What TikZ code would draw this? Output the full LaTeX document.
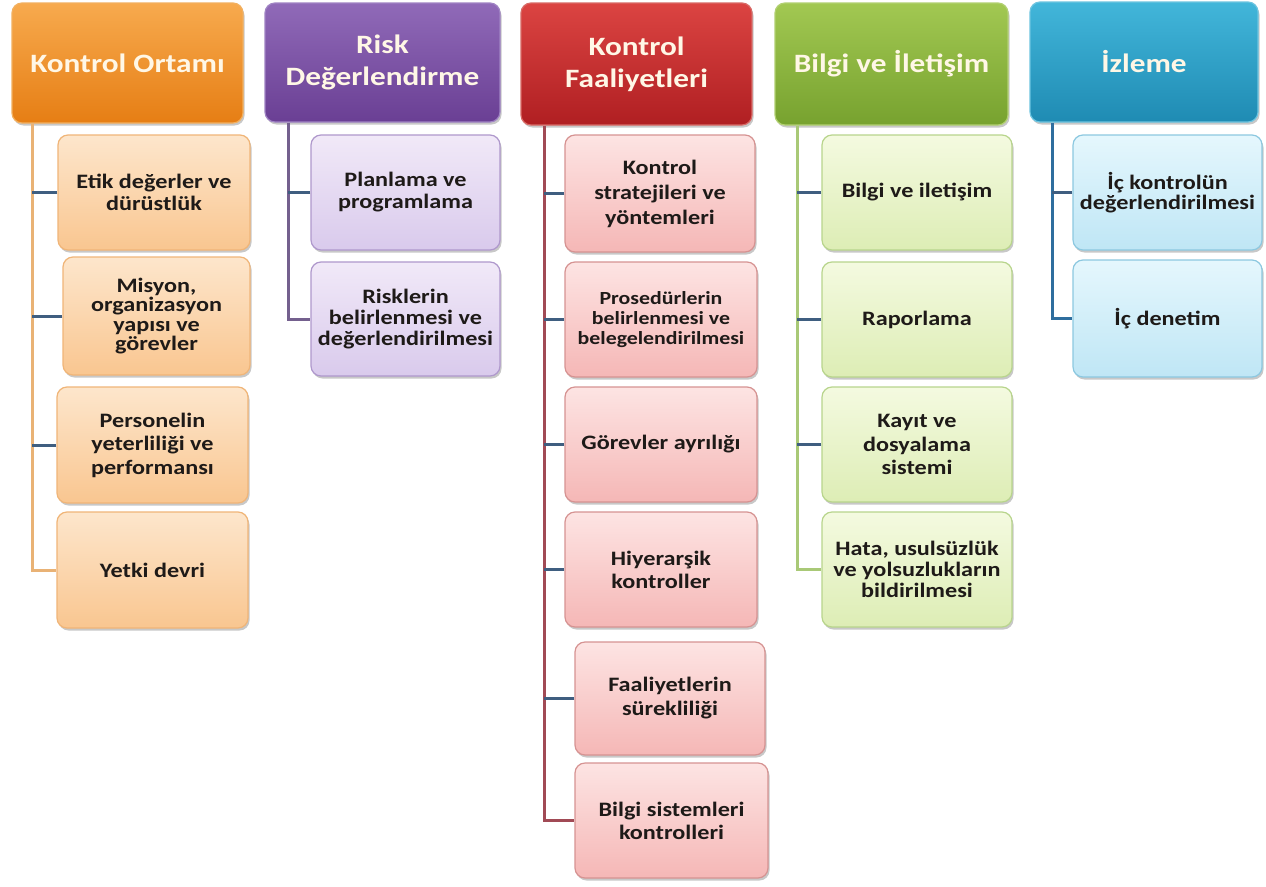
\documentclass[tikz,border=0pt]{standalone}
\usepackage{fontspec}
\setmainfont{Carlito}[FakeStretch=1.18]
\usetikzlibrary{shadows}
\definecolor{hdtext}{HTML}{FFF7E6}
\definecolor{subtext}{HTML}{1E1A18}
\definecolor{stubc}{HTML}{3F5E80}
% orange
\definecolor{oT}{HTML}{F7AA4E}\definecolor{oB}{HTML}{E67E14}\definecolor{oD}{HTML}{F2B060}
\definecolor{osT}{HTML}{FDE6CC}\definecolor{osB}{HTML}{F9C690}\definecolor{osD}{HTML}{F0B578}
\definecolor{oL}{HTML}{E9B275}
% purple
\definecolor{pT}{HTML}{906AB8}\definecolor{pB}{HTML}{6A3F94}\definecolor{pD}{HTML}{A084C4}
\definecolor{psT}{HTML}{F1E9F8}\definecolor{psB}{HTML}{D9CAEC}\definecolor{psD}{HTML}{AF98CC}
\definecolor{pL}{HTML}{74608E}
% red
\definecolor{rT}{HTML}{DB4442}\definecolor{rB}{HTML}{B01F22}\definecolor{rD}{HTML}{D86A66}
\definecolor{rsT}{HTML}{FDE4E3}\definecolor{rsB}{HTML}{F5B7B6}\definecolor{rsD}{HTML}{D69392}
\definecolor{rL}{HTML}{A14A55}
% green
\definecolor{gT}{HTML}{A2C852}\definecolor{gB}{HTML}{77A22F}\definecolor{gD}{HTML}{B2D072}
\definecolor{gsT}{HTML}{F4FAE0}\definecolor{gsB}{HTML}{DDEDB5}\definecolor{gsD}{HTML}{B8D58C}
\definecolor{gL}{HTML}{A9C977}
% blue
\definecolor{bT}{HTML}{42B6DA}\definecolor{bB}{HTML}{1F8BB3}\definecolor{bD}{HTML}{6CC4E0}
\definecolor{bsT}{HTML}{E5F7FD}\definecolor{bsB}{HTML}{BFE6F5}\definecolor{bsD}{HTML}{8CC8E0}
\definecolor{bL}{HTML}{2F6E9E}
\tikzset{
  box/.style={draw, rounded corners=10pt, align=center, inner sep=0pt, line width=1.2pt,
    drop shadow={shadow xshift=1.5pt, shadow yshift=-2.5pt, opacity=0.3, fill=black!70}},
  bsz/.style 2 args={minimum width=#1pt, minimum height=#2pt},
  hdr/.style={box, font=\fontsize{26.5}{32}\selectfont\bfseries, text=hdtext},
  sub/.style={box, font=\fontsize{20.5}{22}\selectfont\bfseries, text=subtext},
  ls/.style={font=\fontsize{20.5}{#1}\selectfont\bfseries},
  ohdr/.style={hdr, top color=oT, bottom color=oB, draw=oD},
  osub/.style={sub, top color=osT, bottom color=osB, draw=osD},
  phdr/.style={hdr, top color=pT, bottom color=pB, draw=pD},
  psub/.style={sub, top color=psT, bottom color=psB, draw=psD},
  rhdr/.style={hdr, top color=rT, bottom color=rB, draw=rD},
  rsub/.style={sub, top color=rsT, bottom color=rsB, draw=rsD},
  ghdr/.style={hdr, top color=gT, bottom color=gB, draw=gD},
  gsub/.style={sub, top color=gsT, bottom color=gsB, draw=gsD},
  bhdr/.style={hdr, top color=bT, bottom color=bB, draw=bD},
  bsub/.style={sub, top color=bsT, bottom color=bsB, draw=bsD},
  vline/.style={line width=3pt, draw=#1},
  stub/.style={line width=3pt, draw=stubc},
}
\begin{document}
\begin{tikzpicture}[x=1pt,y=-1pt]
\useasboundingbox[fill=white] (0,0) rectangle (1266,886);
% column 1
\node[ohdr, bsz={231}{120}] (h1) at (127.5,63) {Kontrol Ortamı};
\coordinate (v1) at ([xshift=21pt]h1.south west);
\node[osub, bsz={192}{115}] (c11) at (154,192.5) {Etik değerler ve\\dürüstlük};
\node[osub, ls=19.5, bsz={187}{118}] (c12) at (156.5,316) {Misyon,\\organizasyon\\yapısı ve\\görevler};
\node[osub, ls=23.5, bsz={191}{116}] (c13) at (152.5,445) {Personelin\\yeterliliği ve\\performansı};
\node[osub, bsz={191}{116}] (c14) at (152.5,570) {Yetki devri};
\draw[vline=oL] (v1) |- (c14.west);
\foreach \n in {c11,c12,c13} \draw[stub] (\n.west) -- (\n.west -| v1);
% column 2
\node[phdr, bsz={235}{119}] (h2) at (382.5,62.5) {Risk\\Değerlendirme};
\coordinate (v2) at ([xshift=24pt]h2.south west);
\node[psub, bsz={189}{115}] (c21) at (405.5,192.5) {Planlama ve\\programlama};
\node[psub, ls=21, bsz={189}{114}] (c22) at (405.5,319) {Risklerin\\belirlenmesi ve\\değerlendirilmesi};
\draw[vline=pL] (v2) |- (c22.west);
\draw[stub] (c21.west) -- (c21.west -| v2);
% column 3
\node[rhdr, bsz={231}{122}] (h3) at (636.5,64) {Kontrol\\Faaliyetleri};
\coordinate (v3) at ([xshift=24pt]h3.south west);
\node[rsub, ls=25, bsz={190}{117}] (c31) at (660,193.5) {Kontrol\\stratejileri ve\\yöntemleri};
\node[rsub, font=\fontsize{18.5}{20}\selectfont\bfseries, bsz={192}{115}] (c32) at (661,319.5) {Prosedürlerin\\belirlenmesi ve\\belegelendirilmesi};
\node[rsub, bsz={192}{115}] (c33) at (661,444.5) {Görevler ayrılığı};
\node[rsub, ls=23, bsz={192}{115}] (c34) at (661,569.5) {Hiyerarşik\\kontroller};
\node[rsub, ls=24, bsz={190}{113}] (c35) at (670,698.5) {Faaliyetlerin\\sürekliliği};
\node[rsub, ls=23, bsz={193}{115}] (c36) at (671.5,820.5) {Bilgi sistemleri\\kontrolleri};
\draw[vline=rL] (v3) |- (c36.west);
\foreach \n in {c31,c32,c33,c34,c35} \draw[stub] (\n.west) -- (\n.west -| v3);
% column 4
\node[ghdr, bsz={233}{122}] (h4) at (891.5,64) {Bilgi ve İletişim};
\coordinate (v4) at ([xshift=23pt]h4.south west);
\node[gsub, bsz={190}{115}] (c41) at (917,192.5) {Bilgi ve iletişim};
\node[gsub, bsz={190}{115}] (c42) at (917,319.5) {Raporlama};
\node[gsub, ls=23.5, bsz={190}{115}] (c43) at (917,444.5) {Kayıt ve\\dosyalama\\sistemi};
\node[gsub, ls=21, bsz={190}{115}] (c44) at (917,569.5) {Hata, usulsüzlük\\ve yolsuzlukların\\bildirilmesi};
\draw[vline=gL] (v4) |- (c44.west);
\foreach \n in {c41,c42,c43} \draw[stub] (\n.west) -- (\n.west -| v4);
% column 5
\node[bhdr, bsz={228}{120}] (h5) at (1144,62) {İzleme};
\coordinate (v5) at ([xshift=23pt]h5.south west);
\node[bsub, ls=20, bsz={189}{115}] (c51) at (1167.5,192.5) {İç kontrolün\\değerlendirilmesi};
\node[bsub, bsz={189}{117}] (c52) at (1167.5,318.5) {İç denetim};
\draw[vline=bL] (v5) |- (c52.west);
\draw[stub] (c51.west) -- (c51.west -| v5);
\end{tikzpicture}
\end{document}
